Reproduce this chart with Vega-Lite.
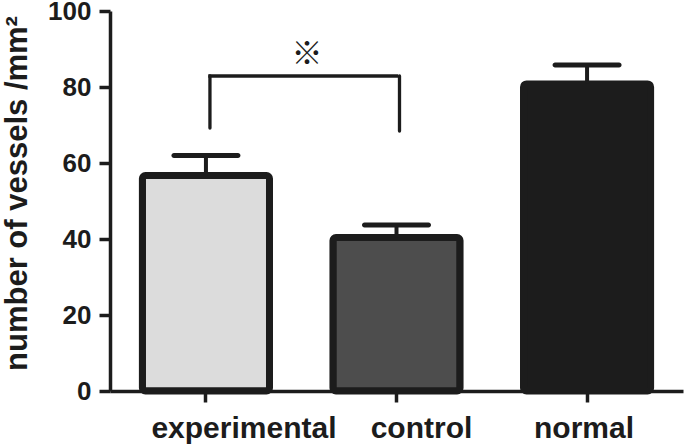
{
  "$schema": "https://vega.github.io/schema/vega-lite/v6.json",
  "width": 573,
  "height": 380,
  "autosize": "none",
  "padding": {"left": 110, "top": 11, "right": 2, "bottom": 53},
  "background": "white",
  "config": {
    "view": {"stroke": null},
    "font": "Liberation Sans",
    "axis": {
      "domainColor": "#1c1c1c",
      "domainWidth": 3.5,
      "tickColor": "#1c1c1c",
      "tickWidth": 3.5,
      "tickSize": 11,
      "labelFont": "Liberation Sans",
      "labelFontWeight": "bold",
      "labelColor": "#1c1c1c",
      "titleFont": "Liberation Sans",
      "titleFontWeight": "bold",
      "titleColor": "#1c1c1c",
      "grid": false
    },
    "axisX": {"labelAngle": 0, "labelAlign": "center", "labelBaseline": "top", "labelFontSize": 30, "labelPadding": 11, "labelLimit": 400, "title": null},
    "axisY": {"labelFontSize": 26, "labelPadding": 8, "titleFontSize": 31, "titlePadding": 14}
  },
  "datasets": {
    "bars": [
      {"group": "experimental", "value": 56.7, "upper": 62.0},
      {"group": "control", "value": 40.4, "upper": 43.7},
      {"group": "normal", "value": 80.8, "upper": 85.8}
    ],
    "bracket": [
      {"from": "experimental", "to": "control", "top": 82.9, "left_low": 69.2, "right_low": 68.4, "label": "※", "label_y": 88.4}
    ]
  },
  "layer": [
    {
      "data": {"name": "bars"},
      "mark": {"type": "bar", "stroke": "#1c1c1c", "strokeWidth": 7, "cornerRadius": 3, "strokeJoin": "round"},
      "encoding": {
        "x": {
          "field": "group",
          "type": "nominal",
          "sort": ["experimental", "control", "normal"],
          "scale": {"domain": ["experimental", "control", "normal"], "paddingInner": 0.333, "paddingOuter": 0.17},
          "axis": {
            "title": null,
            "labelAngle": 0,
            "labelLimit": 400,
            "labelOffset": {
              "condition": [
                {"test": "datum.value === 'experimental'", "value": 38},
                {"test": "datum.value === 'control'", "value": 25}
              ],
              "value": -3
            }
          }
        },
        "y": {
          "field": "value",
          "type": "quantitative",
          "scale": {"domain": [0, 100], "nice": false},
          "axis": {"title": "number of vessels /mm²", "values": [0, 20, 40, 60, 80, 100], "titleY": 182}
        },
        "fill": {
          "field": "group",
          "type": "nominal",
          "scale": {"domain": ["experimental", "control", "normal"], "range": ["#dcdcdc", "#4d4d4d", "#1c1c1c"]},
          "legend": null
        }
      }
    },
    {
      "data": {"name": "bars"},
      "mark": {"type": "rule", "color": "#1c1c1c", "strokeWidth": 4},
      "encoding": {
        "x": {"field": "group", "type": "nominal"},
        "y": {"field": "value", "type": "quantitative"},
        "y2": {"field": "upper"}
      }
    },
    {
      "data": {"name": "bars"},
      "mark": {"type": "tick", "color": "#1c1c1c", "size": 69, "thickness": 5, "cornerRadius": 2.5, "opacity": 1},
      "encoding": {
        "x": {"field": "group", "type": "nominal"},
        "y": {"field": "upper", "type": "quantitative"}
      }
    },
    {
      "data": {"name": "bracket"},
      "mark": {"type": "rule", "color": "#1c1c1c", "strokeWidth": 3.3, "strokeCap": "square", "xOffset": 4},
      "encoding": {
        "x": {"field": "from", "type": "nominal"},
        "x2": {"field": "to"},
        "y": {"field": "top", "type": "quantitative"}
      }
    },
    {
      "data": {"name": "bracket"},
      "mark": {"type": "rule", "color": "#1c1c1c", "strokeWidth": 3.3, "strokeCap": "round", "xOffset": 4},
      "encoding": {
        "x": {"field": "from", "type": "nominal"},
        "y": {"field": "left_low", "type": "quantitative"},
        "y2": {"field": "top"}
      }
    },
    {
      "data": {"name": "bracket"},
      "mark": {"type": "rule", "color": "#1c1c1c", "strokeWidth": 3.3, "strokeCap": "round", "xOffset": 3},
      "encoding": {
        "x": {"field": "to", "type": "nominal"},
        "y": {"field": "right_low", "type": "quantitative"},
        "y2": {"field": "top"}
      }
    },
    {
      "data": {"name": "bracket"},
      "mark": {"type": "text", "font": "Noto Sans CJK JP", "fontSize": 31, "color": "#1c1c1c", "baseline": "middle", "align": "center", "dx": 101},
      "encoding": {
        "x": {"field": "from", "type": "nominal"},
        "y": {"field": "label_y", "type": "quantitative"},
        "text": {"field": "label"}
      }
    }
  ]
}
